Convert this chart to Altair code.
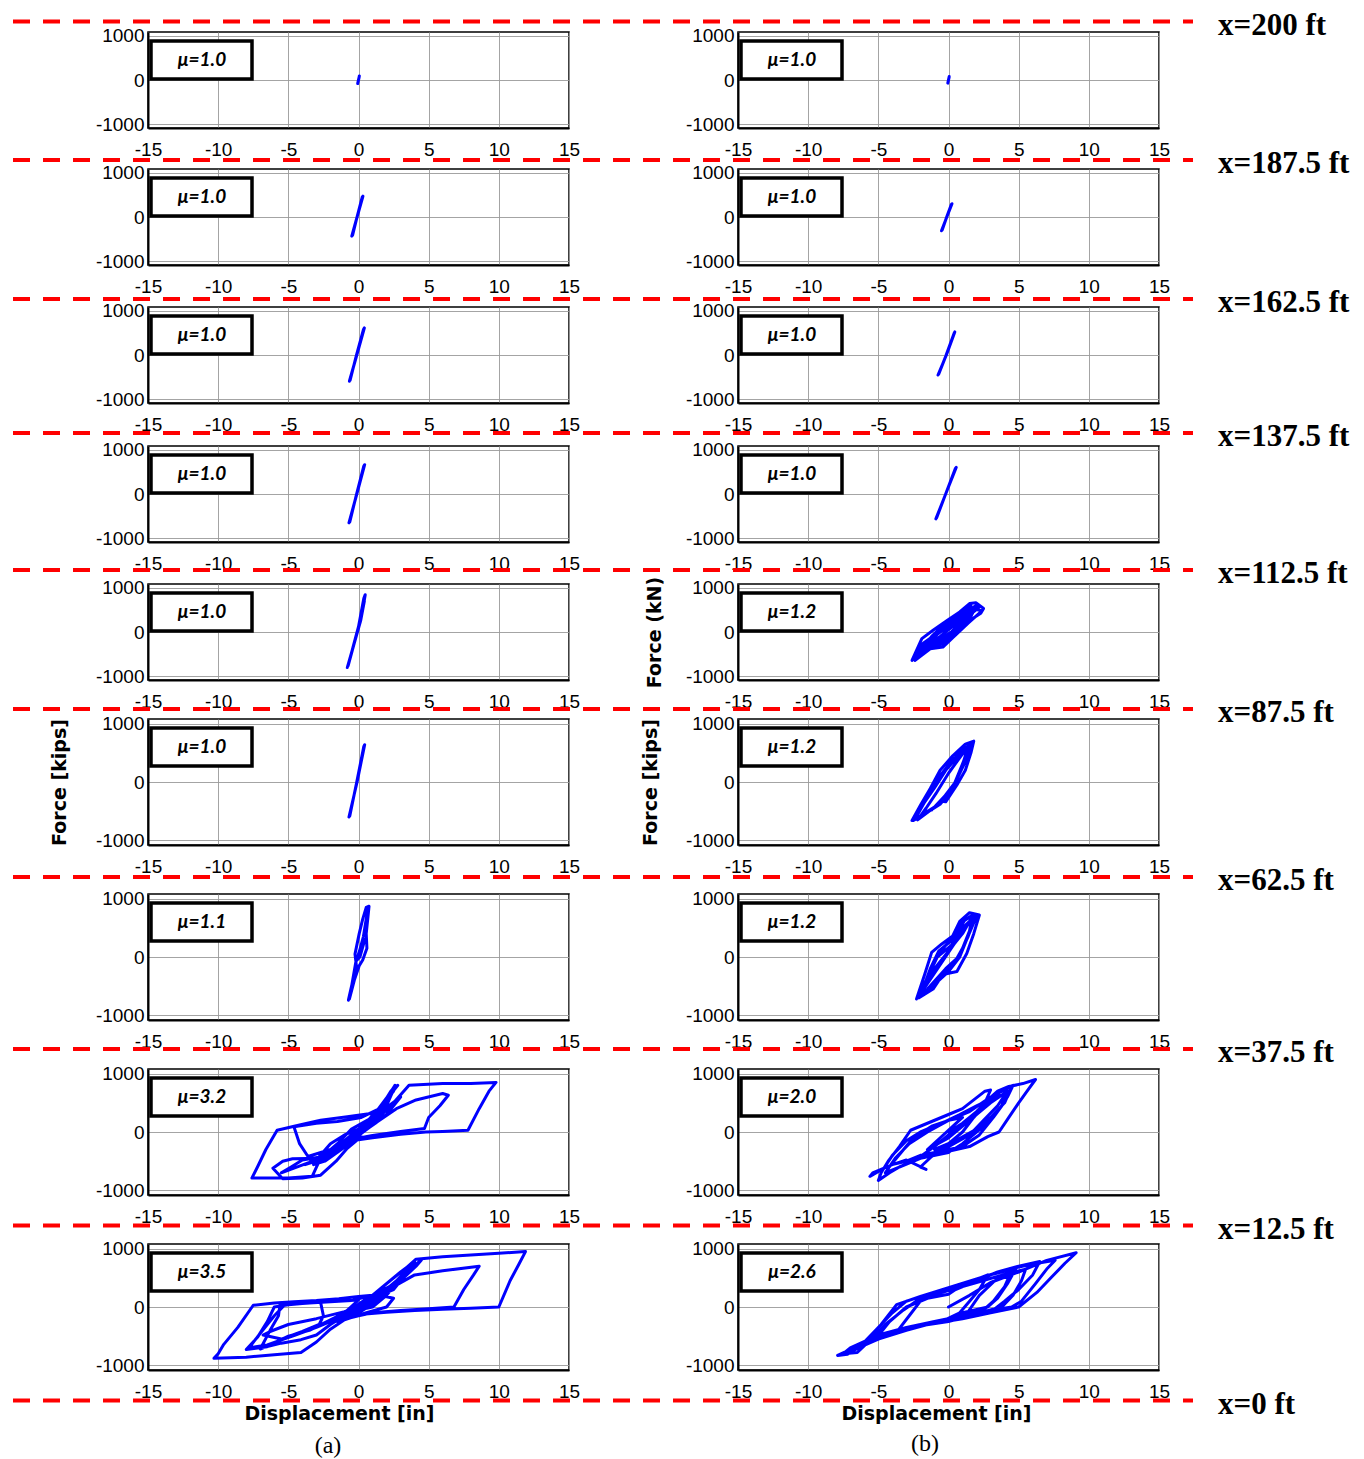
import altair as alt
import pandas as pd

# ---------------- text ----------------
STATIONS = ["x=200 ft", "x=187.5 ft", "x=162.5 ft", "x=137.5 ft", "x=112.5 ft",
            "x=87.5 ft", "x=62.5 ft", "x=37.5 ft", "x=12.5 ft", "x=0 ft"]
MU_A = ["μ=1.0", "μ=1.0", "μ=1.0", "μ=1.0", "μ=1.0", "μ=1.0", "μ=1.1", "μ=3.2", "μ=3.5"]
MU_B = ["μ=1.0", "μ=1.0", "μ=1.0", "μ=1.0", "μ=1.2", "μ=1.2", "μ=1.2", "μ=2.0", "μ=2.6"]
X_TICKS = [-15, -10, -5, 0, 5, 10, 15]
Y_TICKS = [-1000, 0, 1000]
SUBCAPS = ["(a)", "(b)"]

# ---------------- column (a) curves: displacement [in], force [kips] ----------------
A1_D = [-0.06, 0.06, -0.04, 0.05, -0.06]
A1_F = [-80, 90, -60, 70, -80]
A2_D = [-0.48, -0.10, 0.32, 0.27, -0.12, -0.42]
A2_F = [-430, 0, 470, 450, -20, -410]
A3_D = [-0.65, -0.12, 0.42, 0.36, -0.16, -0.60]
A3_F = [-590, 0, 610, 580, -20, -570]
A4_D = [-0.68, -0.12, 0.44, 0.38, -0.16, -0.62]
A4_F = [-650, 0, 660, 630, -30, -630]
A5_D = [-0.80, -0.35, 0.05, 0.30, 0.48, 0.38, 0.00, -0.40, -0.74, -0.30, 0.15, 0.42]
A5_F = [-800, -300, 150, 500, 840, 760, 120, -350, -760, -250, 250, 700]
A6_D = [-0.68, -0.10, 0.44, 0.38, -0.15, -0.62]
A6_F = [-600, 0, 640, 610, -30, -580]
A7_D = [-0.72, -0.45, -0.15, -0.25, 0.05, 0.30, 0.55, 0.75, 0.68, 0.55, 0.60, 0.30, 0.05, -0.30, -0.65,
        -0.20, 0.20, 0.45, 0.10, -0.10, 0.35, 0.65]
A7_F = [-740, -450, -150, 50, 400, 650, 850, 870, 700, 400, 150, -50, -150, -400, -720,
        -100, 200, 300, 0, -50, 350, 800]
A8_D = [0.0, 1.0, 2.0, 2.6, 2.3, 1.4, 0.3, -1.0, -2.0, -2.8, -2.1, -0.8, 0.6, 1.8, 2.5, 2.8, 2.2, 1.1,
        0.0, -1.2, -2.4, -3.2, -2.4, -1.0, 1.0, 2.2, 3.6, 6.0, 8.0, 9.8, 9.3, 8.6, 7.8, 6.0, 4.8, 3.0,
        1.0, -0.5, 1.0, 2.7, 4.1, 6.0, 6.4, 5.8, 5.0, 4.7, 3.0, 1.0, -1.0, -2.0, -2.8, -3.3, -5.0, -7.6,
        -7.2, -6.6, -5.8, -4.2, -2.7, -0.8, 1.0, 2.0, 1.0, -0.5, -1.5, -2.7, -4.7, -5.4, -6.1, -5.4,
        -4.0, -2.7, -1.6, -0.8, 0.2, -2.0, -3.6, -4.2, -4.6, -3.0, -1.5, 0.2, 1.5, 2.5, 1.8, 0.5,
        -1.0, -2.0, -2.9, -2.0, -1.0, 0.0,
        -2.5, -1.0, 0.5, 1.8, 2.6, 2.0, 1.0, -0.2, -1.5, -3.0, -3.8, -2.0, -0.5, 0.8, 2.2, 2.5, 1.5,
        0.0, -2.0, -4.0, -4.8, -5.5, -3.5, -1.5, 0.0, 1.2, 2.0, 3.0, 2.0, 0.5, -0.5]
A8_F = [0, 150, 450, 780, 700, 350, 50, -150, -350, -480, -420, -200, 100, 450, 750, 800, 620, 250,
        0, -250, -450, -560, -500, -260, 150, 420, 800, 830, 830, 850, 700, 400, 30, 10, 0, -40,
        -100, -150, 120, 400, 550, 660, 630, 450, 250, 60, 10, -60, -150, -300, -500, -760, -790, -790,
        -600, -300, 30, 120, 200, 260, 320, 420, 250, 50, -200, -450, -460, -500, -620, -800,
        -790, -740, -500, -280, -80, -300, -420, -200, 90, 150, 180, 250, 400, 700, 500, 150,
        -150, -300, -450, -200, -50, 50,
        -450, -150, 150, 500, 800, 550, 250, 0, -300, -500, -560, -350, -50, 200, 650, 720, 350,
        50, -400, -480, -600, -700, -520, -250, -50, 150, 300, 600, 420, 100, -80]
A9_D = [0.0, 0.8, 2.0, 3.3, 4.1, 6.0, 8.0, 10.0, 11.9, 11.4, 10.8, 10.0, 8.0, 6.0, 4.0, 2.0, 0.5, -0.5,
        1.0, 2.5, 4.0, 6.0, 8.6, 8.2, 7.5, 6.8, 5.0, 3.0, 1.0, -1.0,
        1.0, 2.2, 3.5, 4.5, 4.1, 3.0, 2.5, 1.5, 2.5, 2.0, 0.5, -1.0,
        -2.0, -3.0, -4.1, -6.0, -8.0, -10.3, -10.0, -9.6, -8.6, -7.5, -6.0, -4.6, -3.0, -1.4, 0.0, 1.0,
        0.0, -1.0, -2.0, -3.0, -4.1, -5.5, -6.5, -8.0, -7.2, -6.5, -6.0, -5.0, -3.0, -1.5, 0.0,
        -1.0, -2.5, -3.5, -5.0, -6.0, -7.0, -6.3, -5.7, -5.6, -4.0, -2.7, -2.5, -2.8, -4.0, -5.5, -6.8,
        -6.3, -5.0, -3.0, -1.0, 0.5, 2.0, 3.0, 2.0, 1.0, 0.0,
        -1.5, 0.0, 1.5, 3.0, 4.0, 3.5, 2.5, 1.0, 0.0, -1.5, -3.0, -4.5, -6.5, -7.8, -7.0, -6.0, -5.2,
        -3.5, -2.0, -0.5, 1.0, 2.2, 3.2, 2.6, 1.6, 0.5, -1.0]
A9_F = [0, 150, 400, 650, 820, 860, 890, 920, 950, 720, 450, 0, -20, -40, -60, -90, -120, -180,
        50, 350, 550, 620, 700, 550, 300, 0, -30, -60, -100, -200,
        100, 300, 620, 810, 700, 450, 300, 200, 150, 0, -100, -220,
        -380, -600, -780, -820, -860, -880, -800, -640, -350, 30, 70, 90, 110, 140, 180, 200,
        50, -150, -300, -480, -560, -620, -680, -730, -520, -250, 0, 40, 80, 100, 120,
        -100, -280, -400, -500, -620, -720, -400, -150, 40, 60, 80, -150, -300, -420, -550, -480,
        -420, -300, -200, -80, 50, 300, 500, 200, 0, -50,
        -250, 0, 300, 600, 780, 650, 400, 150, -50, -200, -350, -480, -650, -700, -450, -150, 50,
        70, 90, 110, 200, 350, 550, 400, 200, 50, -120]

# ---------------- column (b) curves ----------------
B1_D = [-0.05, 0.05, -0.04, 0.05]
B1_F = [-70, 80, -60, 70]
B2_D = [-0.50, -0.12, 0.25, 0.20, -0.15, -0.45]
B2_F = [-310, 0, 300, 280, -20, -290]
B3_D = [-0.75, -0.15, 0.45, 0.40, -0.20, -0.70]
B3_F = [-450, 0, 520, 490, -30, -430]
B4_D = [-0.90, -0.20, 0.55, 0.48, -0.25, -0.85]
B4_F = [-560, 0, 600, 570, -40, -540]
B5_D = [-2.6, -1.9, -1.1, -0.1, 0.8, 1.5, 1.95, 2.5, 2.3, 1.5, 0.6, -0.4, -1.3, -2.4, -2.0, -1.2, -0.5,
        0.5, 1.2, 2.0, 1.6, 0.8, 0.0, -1.0, -2.2, -1.4, -0.3, 0.9, 1.8, 1.0, 0.2, -0.8, -1.8, -0.8,
        0.3, 1.3, 0.5, -0.5,
        -2.3, -1.5, -0.6, 0.4, 1.3, 2.2, 1.9, 1.0, 0.2, -0.8, -1.7, -2.5, -1.8, -0.9, 0.0, 1.0, 1.7,
        2.4, 1.4, 0.4, -0.5, -1.6, -2.2, -1.2, -0.2, 0.7, 1.6]
B5_F = [-640, -150, 40, 260, 450, 640, 660, 530, 420, 260, -40, -340, -380, -640, -400, -150, 50,
        250, 450, 600, 350, 100, -150, -300, -520, -200, 100, 350, 550, 200, -50, -250, -420, -50,
        200, 420, 80, -200,
        -560, -300, -100, 150, 380, 560, 480, 250, 0, -200, -350, -600, -250, -50, 100, 350, 520,
        480, 200, -100, -280, -420, -480, -100, 200, 380, 600]
B6_D = [-2.6, -2.0, -1.3, -0.6, 0.3, 1.2, 1.8, 1.6, 1.2, 0.6, -0.2, -0.5, -1.1, -2.2, -1.6, -0.9, 0.0,
        0.9, 1.5, 0.9, 0.3, -0.8, -2.4,
        -2.3, -1.6, -0.8, 0.2, 1.0, 1.6, 1.3, 0.8, 0.2, -0.6, -1.5, -2.5, -1.8, -1.0, -0.2, 0.6, 1.4,
        1.0, 0.5, -0.3, -1.2]
B6_F = [-660, -400, -110, 200, 450, 650, 700, 500, 200, -50, -340, -330, -450, -650, -450, -200, 150,
        450, 620, 250, -100, -400, -640,
        -600, -300, 50, 350, 550, 650, 400, 150, -150, -380, -520, -660, -380, -100, 200, 420, 600,
        300, 0, -250, -480]
B7_D = [-2.28, -1.7, -1.2, -0.5, 0.3, 0.8, 1.5, 2.2, 1.8, 1.3, 0.6, -0.4, -1.1, -2.1, -1.5, -0.8, 0.2,
        1.0, 1.9, 1.4, 0.7, -0.2, -1.5, -2.0, -1.0, 0.0, 1.0, 1.6,
        -1.9, -1.3, -0.7, 0.3, 1.0, 1.7, 1.5, 1.0, 0.3, -0.6, -1.4, -2.2, -1.6, -1.0, -0.2, 0.6, 1.2,
        2.0, 1.3, 0.8, 0.0, -0.9, -1.8]
B7_F = [-720, -300, 80, 220, 360, 610, 760, 720, 400, 60, -250, -300, -550, -700, -350, 0, 200,
        500, 700, 350, 0, -200, -550, -650, -200, 100, 400, 650,
        -600, -200, 100, 300, 600, 720, 450, 150, -150, -350, -550, -700, -400, -50, 200, 400, 650,
        700, 300, 0, -250, -450, -620]
B8_D = [0.0, 1.0, 2.0, 2.8, 3.5, 4.3, 5.3, 6.2, 5.6, 5.0, 4.3, 3.6, 2.8, 1.5, 0.0, -1.0, -2.0,
        -1.0, 0.0, 1.0, 2.0, 3.0, 4.0, 4.6, 4.2, 3.5, 2.8, 2.0, 1.0, 0.0, -2.0, -3.5, -4.2, -5.0, -4.8,
        -4.3, -3.5, -2.7, -1.5, 0.0, 1.0, 1.8, 2.6, 3.0, 2.5, 1.8, 1.0, 0.0, -1.2, -2.0, -1.6, -3.0,
        -4.0, -5.4, -5.6, -4.6, -4.0, -3.0, -2.0, -0.5, 0.8, 2.0, 3.3, 4.1, 3.8, 3.2, 2.2, 1.0, -0.5,
        -2.0, -3.0, -4.1, -3.2, -2.5, -1.2, 0.0, 1.0,
        -1.5, 0.0, 1.5, 3.0, 4.2, 3.5, 2.5, 1.5, 0.0, -1.5, -3.0, -4.5, -3.8, -2.8, -1.5, 0.0, 1.5,
        3.0, 4.5, 4.0, 3.0, 2.0, 0.5, -1.0]
B8_F = [0, 150, 350, 550, 700, 780, 830, 900, 700, 500, 250, 0, -80, -250, -330, -380, -420,
        -250, -50, 100, 300, 550, 750, 800, 600, 350, 150, 0, -200, -350, -450, -600, -700, -830, -700,
        -500, -250, 30, 150, 300, 400, 550, 700, 720, 450, 250, 0, -200, -420, -600, -640, -480,
        -560, -700, -760, -620, -400, -150, 0, 150, 300, 450, 600, 650, 450, 250, -50, -250, -330,
        -400, -500, -560, -300, -100, 100, 200, 250,
        -300, -100, 200, 500, 700, 450, 200, -50, -250, -400, -550, -700, -450, -200, 0, 200, 350,
        600, 780, 500, 250, 50, -150, -300]
B9_D = [0.0, 1.5, 3.0, 5.0, 7.0, 9.1, 8.3, 7.3, 6.3, 5.0, 3.0, 1.0, -1.0, -3.0, -4.5, -6.0, -7.2, -7.9,
        -7.2, -6.0, -4.8, -3.7, -2.0, 0.0, 2.0, 4.0, 5.8, 7.6, 7.0, 6.2, 5.2, 4.5, 3.0, 1.0, -1.0, -3.0,
        -5.0, -7.0, -7.5, -6.5, -5.5, -4.5, -3.2, -2.0, 0.0, 2.0, 4.0, 5.5, 5.2, 4.6, 3.8, 2.5, 1.2,
        2.2, 3.3, 4.5, 4.0, 3.2, 2.5, 1.0, 0.0, -2.0, -3.6, -2.8, -2.0, -0.5, 1.2, 2.8, 2.2, 1.5, 0.8,
        -0.5, -1.5, -3.0, -5.0, -6.3, -5.2, -4.2, -3.0, -1.5, 0.0,
        0.5, 2.0, 3.5, 5.0, 6.5, 6.0, 5.0, 4.0, 3.2, 1.5, 0.0, -2.0, -4.0, -5.5, -6.8, -5.8, -5.0,
        -4.0, -3.0, -1.0, 1.0, 3.0, 4.8, 4.2, 3.5, 2.8, 1.0]
B9_F = [0, 200, 420, 600, 800, 930, 750, 500, 250, 0, -100, -200, -280, -350, -450, -600, -750, -830,
        -810, -600, -300, 40, 180, 330, 480, 630, 730, 800, 650, 400, 100, 0, -60, -150, -250, -350,
        -480, -700, -800, -780, -550, -300, -50, 150, 280, 420, 560, 650, 450, 200, 0, -80, -150,
        200, 450, 620, 350, 100, -50, -100, -200, -300, -400, -150, 100, 250, 400, 550, 300, 100, -100,
        -250, -300, -400, -550, -690, -550, -250, 0, 150, 220,
        300, 450, 600, 700, 780, 550, 300, 100, -50, -150, -250, -320, -450, -600, -750, -600, -350,
        -100, 100, 250, 400, 550, 660, 400, 150, 0, -100]

CURVES_A = [(A1_D, A1_F), (A2_D, A2_F), (A3_D, A3_F), (A4_D, A4_F), (A5_D, A5_F),
            (A6_D, A6_F), (A7_D, A7_F), (A8_D, A8_F), (A9_D, A9_F)]
CURVES_B = [(B1_D, B1_F), (B2_D, B2_F), (B3_D, B3_F), (B4_D, B4_F), (B5_D, B5_F),
            (B6_D, B6_F), (B7_D, B7_F), (B8_D, B8_F), (B9_D, B9_F)]

# ---------------- layout (pixels) ----------------
ORIGIN = 20
TOP_A = [22.5, 161, 300, 440, 579, 715, 891, 1067, 1243.5]
HGT = [96, 96, 96, 96, 96, 126, 126, 126, 126]
RED_Y = [12, 152, 292, 427, 565, 705, 874, 1047, 1225, 1400]
PW = 421
LEFT_X0 = 145
RIGHT_X0 = 735
BLUE = "#0000ff"
LABEL_EXPR = "'' + datum.value"


def one(**kw):
    return pd.DataFrame({k: [v] for k, v in kw.items()})


def panel(d, f, mu, h, ytitle=None, ytp=0, xtitle=None, xtx=0, extra=()):
    df = pd.DataFrame({"d": d, "f": f, "i": list(range(len(d)))})
    xax = dict(values=X_TICKS, grid=True, labelFlush=False, labelOverlap=False, ticks=False,
               labelPadding=12, labelExpr=LABEL_EXPR, title=xtitle)
    if xtitle:
        xax.update(titleX=xtx, titlePadding=3)
    yax = dict(values=Y_TICKS, grid=True, labelFlush=False, labelOverlap=False, ticks=False,
               labelPadding=4, labelExpr=LABEL_EXPR, title=ytitle)
    if ytitle:
        yax.update(titlePadding=ytp)
    line = alt.Chart(df).mark_line(color=BLUE, strokeWidth=3, strokeJoin="round",
                                   strokeCap="round").encode(
        x=alt.X("d:Q", scale=alt.Scale(domain=[-15, 15], nice=False, zero=False), axis=alt.Axis(**xax)),
        y=alt.Y("f:Q", scale=alt.Scale(domain=[-1080, 1080], nice=False, zero=False), axis=alt.Axis(**yax)),
        order=alt.Order("i:Q"),
    )
    mdf = one(mu=mu)
    box = alt.Chart(mdf).mark_rect(fill="white", stroke="black", strokeWidth=3.5).encode(
        x=alt.value(3), x2=alt.value(104), y=alt.value(9), y2=alt.value(47))
    txt = alt.Chart(mdf).mark_text(font="Lato, DejaVu Sans", fontSize=19, fontWeight="bold",
                                   fontStyle="italic", align="center", baseline="middle",
                                   color="black").encode(
        x=alt.value(54), y=alt.value(28), text="mu:N")
    return alt.layer(line, box, txt, *extra).properties(width=PW, height=h)


def red_line(rel):
    return alt.Chart(one(z=0)).mark_rule(color="#ff0000", strokeWidth=4, strokeDash=[17, 13]).encode(
        x=alt.value(10 - LEFT_X0), x2=alt.value(1190 - LEFT_X0), y=alt.value(rel))


def station_label(lab, rel):
    return alt.Chart(one(lab=lab)).mark_text(font="Liberation Serif", fontSize=31, fontWeight="bold",
                                             align="left", baseline="alphabetic", color="black").encode(
        x=alt.value(1215 - LEFT_X0), y=alt.value(rel + 13), text="lab:N")


def subcap(lab, x, rel):
    return alt.Chart(one(lab=lab)).mark_text(font="Liberation Serif", fontSize=24, align="center",
                                             baseline="middle", color="black").encode(
        x=alt.value(x), y=alt.value(rel), text="lab:N")


def spacer(h):
    return alt.Chart(one(z=0)).mark_point(opacity=0).encode(
        x=alt.value(0), y=alt.value(0)).properties(
        width=PW, height=h, view=alt.ViewBackground(stroke="transparent"))


cells = []
first_gap = int(round(TOP_A[0] - ORIGIN))
cells += [spacer(first_gap), spacer(first_gap)]
for k in range(9):
    # left panel (a)
    d, f = CURVES_A[k]
    rel = RED_Y[k] - TOP_A[k]
    extra_a = [red_line(rel), station_label(STATIONS[k], rel)]
    kw_a = {}
    if k == 5:
        kw_a.update(ytitle="Force [kips]", ytp=26)
    if k == 8:
        rel9 = RED_Y[9] - TOP_A[8]
        extra_a += [red_line(rel9), station_label(STATIONS[9], rel9),
                    subcap(SUBCAPS[0], 325 - LEFT_X0, 1445 - TOP_A[8])]
        kw_a.update(xtitle="Displacement [in]", xtx=336 - LEFT_X0)
    cells.append(panel(d, f, MU_A[k], HGT[k], extra=extra_a, **kw_a))
    # right panel (b)
    d, f = CURVES_B[k]
    extra_b = []
    kw_b = {}
    if k == 4:
        kw_b.update(ytitle="Force (kN)", ytp=21)
    if k == 5:
        kw_b.update(ytitle="Force [kips]", ytp=25)
    if k == 8:
        extra_b.append(subcap(SUBCAPS[1], 922 - RIGHT_X0, 1443 - TOP_A[8]))
        kw_b.update(xtitle="Displacement [in]", xtx=933 - RIGHT_X0)
    cells.append(panel(d, f, MU_B[k], HGT[k], extra=extra_b, **kw_b))
    if k < 8:
        g = int(round(TOP_A[k + 1] - TOP_A[k] - HGT[k])) - 1
        cells += [spacer(g), spacer(g)]

chart = alt.concat(*cells, columns=2, spacing={"row": 0, "column": RIGHT_X0 - LEFT_X0 - PW},
                   bounds="flush", align="each").properties(
    padding={"left": 2, "top": 0, "right": 4, "bottom": 4},
    background="white",
).configure_view(
    stroke="black", strokeWidth=1.5
).configure_axis(
    labelFont="Liberation Sans", labelFontSize=19, labelColor="black",
    titleFont="DejaVu Sans", titleFontSize=19, titleFontWeight="bold", titleColor="black",
    gridColor="#9a9a9a", gridWidth=0.9, domainColor="black", domainWidth=2,
)

chart.save("out.html", embed_options={"renderer": "svg", "actions": False})
